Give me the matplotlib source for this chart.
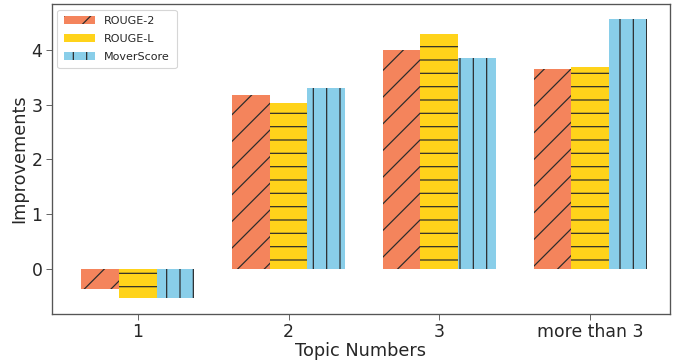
import matplotlib.pyplot as plt
import numpy as np

topics = ["1", "2", "3", "more than 3"]
rouge2 = [-0.37, 3.17, 4.00, 3.65]
rougel = [-0.53, 3.04, 4.30, 3.68]
mover = [-0.53, 3.30, 3.85, 4.56]

plt.rcParams['hatch.color'] = '#2b2b2b'
plt.rcParams['hatch.linewidth'] = 1.1

fig = plt.figure(figsize=(674/80, 362/80), dpi=80)
ax = fig.add_axes([0.077, 0.133, 0.917, 0.856])

xpos = np.arange(len(topics))
w = 0.25
ax.bar(xpos - w, rouge2, width=w, color="#F4845C", hatch="/", label="ROUGE-2")
ax.bar(xpos, rougel, width=w, color="#FFD31A", hatch="-", label="ROUGE-L")
ax.bar(xpos + w, mover, width=w, color="#89CEE9", hatch="|", label="MoverScore")

ax.set_xticks(xpos)
ax.set_xticklabels(topics)
ax.set_xlim(-0.57, 3.53)
ax.set_ylim(-0.82, 4.84)
ax.set_yticks([0, 1, 2, 3, 4])

txt = '#262626'
for s in ax.spines.values():
    s.set_color('#555555')
    s.set_linewidth(1.2)
ax.tick_params(colors='#555555', labelcolor=txt, labelsize=15.5, length=5)
ax.set_xlabel("Topic Numbers", fontsize=16, color=txt, labelpad=1)
ax.set_ylabel("Improvements", fontsize=16, color=txt, labelpad=3)

leg = ax.legend(loc="upper left", fontsize=10, handlelength=2.8, borderpad=0.6,
                labelspacing=0.7, frameon=True)
leg.get_frame().set_edgecolor('#cccccc')
for t in leg.get_texts():
    t.set_color(txt)

fig.savefig("out.png", dpi=80)
